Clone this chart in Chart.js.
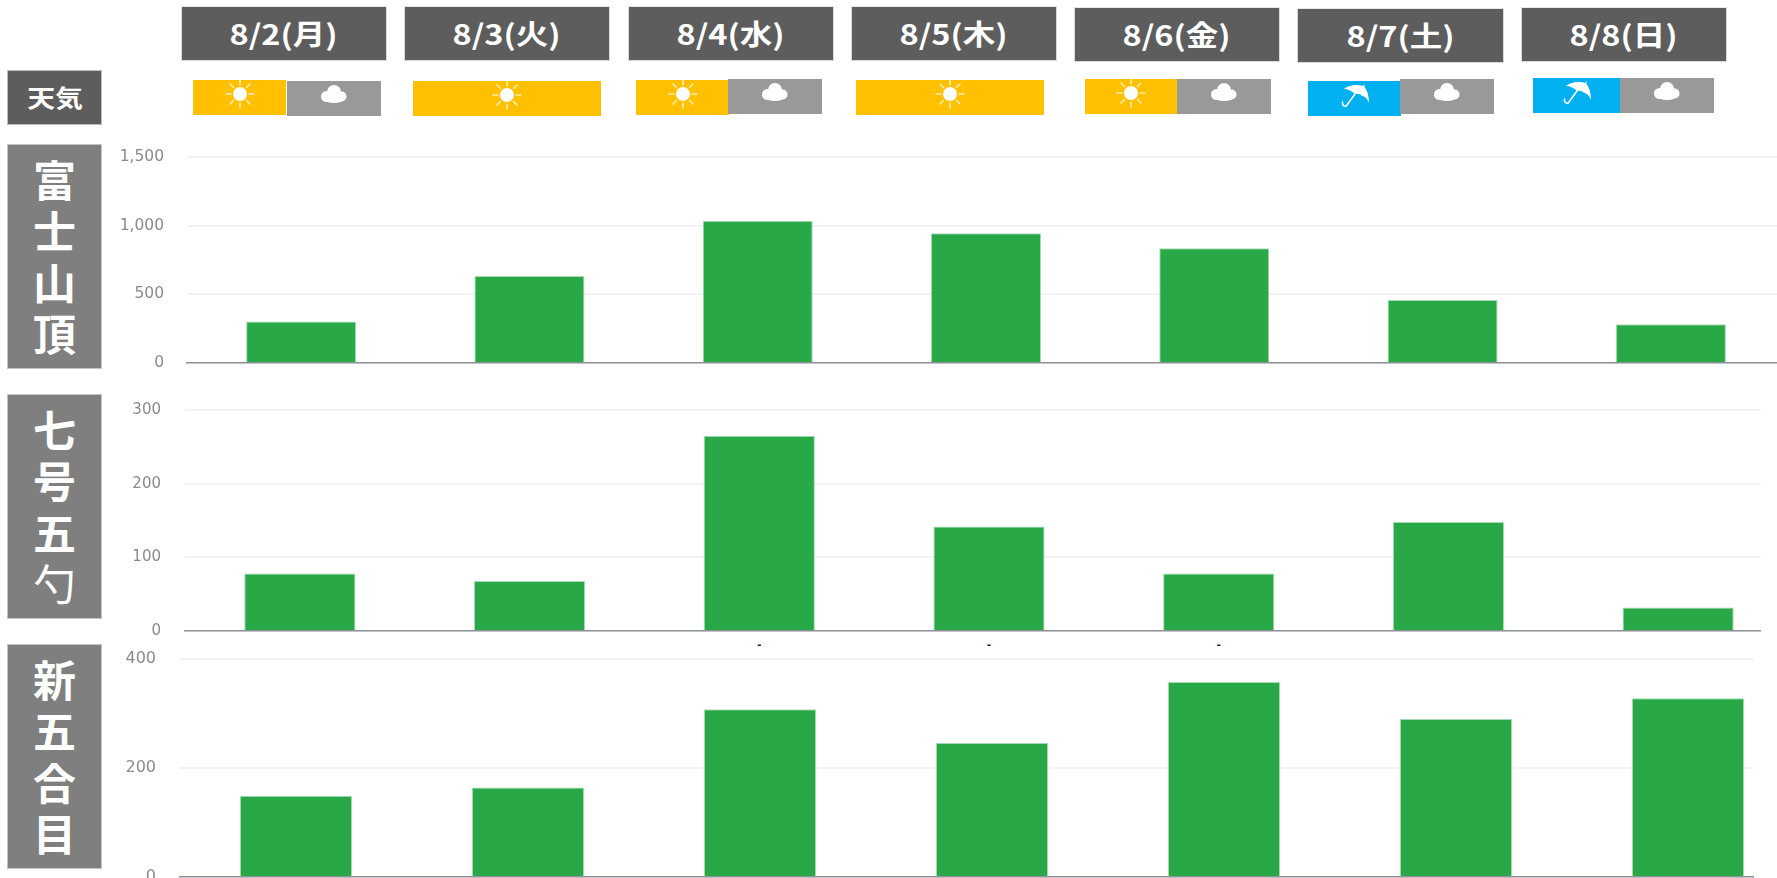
<!DOCTYPE html>
<html lang="ja">
<head>
<meta charset="utf-8">
<title>登山者数</title>
<script src="https://cdn.jsdelivr.net/npm/chart.js@4"></script>
<style>
    html, body { margin: 0; padding: 0; background: #fff; width: 1777px; height: 878px; overflow: hidden; }
    body { position: relative; font-family: "Noto Sans CJK JP", "Noto Sans", sans-serif; }
    .box { position: absolute; display: flex; align-items: center; justify-content: center; color: #fff; font-weight: 700; box-sizing: border-box; }
    .day { background: #5d5d5d; border: 1px solid #d9d9d9; border-top-color: #e8e8e8; font-size: 28px; padding-bottom: 2px; }
    .day span, .tenki span { display: inline-block; transform: scaleX(1.16); white-space: nowrap; }
    .tenki { background: #5d5d5d; border: 1px solid #bdbdbd; font-size: 24px; padding-bottom: 2px; }
    .place { background: #7f7f7f; border: 1px solid #c4c4c4; flex-direction: column; font-size: 43px; line-height: 51.5px; padding-bottom: 2px; }
    .place .thin { font-weight: 400; }
    .cell { position: absolute; }
    .cell svg { position: absolute; left: 50%; top: 0; margin-left: -18px; }
    .wrap { position: absolute; left: 0; overflow: hidden; }
    .wrap canvas { display: block; }
</style>
</head>
<body>
<script>
// データ
const days = ["8/2(月)", "8/3(火)", "8/4(水)", "8/5(木)", "8/6(金)", "8/7(土)", "8/8(日)"]
const weather = [["sun", "cloud"], ["sun"], ["sun", "cloud"], ["sun"], ["sun", "cloud"], ["rain", "cloud"], ["rain", "cloud"]]
const places = ["富士山頂", "七号五勺", "新五合目"]
const thinChars = ["勺"]

const fujiTop = [303, 633, 1036, 945, 836, 459, 283]
const nanagoGoshaku = [78, 68, 265, 142, 78, 148, 32]
const shinGogome = [149, 164, 308, 246, 358, 290, 328]

const fujiTicks = [0, 500, 1000, 1500]
const nanagoTicks = [0, 100, 200, 300]
const shinTicks = [0, 200, 400]
const nanagoMarks = ["", "", "-", "-", "-", "", ""]

// レイアウト [left, top, right, bottom]
const dayBoxes = [
    [181, 6, 387, 61], [404, 6, 610, 61], [628, 6, 834, 61], [851, 6, 1057, 61],
    [1074, 7, 1280, 62], [1297, 8, 1504, 63], [1521, 7, 1727, 62],
]
const weatherBoxes = [
    [[193, 80, 286, 115], [287, 81, 381, 116]],
    [[413, 81, 601, 116]],
    [[636, 80, 729, 115], [728, 79, 822, 114]],
    [[856, 80, 1044, 115]],
    [[1085, 79, 1177, 114], [1177, 79, 1271, 114]],
    [[1308, 81, 1401, 116], [1400, 79, 1494, 114]],
    [[1533, 78, 1620, 113], [1620, 78, 1714, 113]],
]
const placeBoxes = [[7, 144, 102, 369], [7, 394, 102, 619], [7, 644, 102, 869]]
const colors = { sun: "#ffc000", cloud: "#999999", rain: "#00b0f0" }
const green = "#29a847"

const icons = {
    sun: `<g stroke="#ffeeb0" stroke-width="1.6" stroke-linecap="round">
            <path d="M18 0V5M18 23V28M4 14H9M27 14H32M8 4L11.5 7.5M24.5 20.5L28 24M28 4L24.5 7.5M11.5 20.5L8 24"/></g>
          <circle cx="18" cy="14" r="7" fill="#fff"/>`,
    cloud: `<g fill="#fff"><circle cx="18" cy="11" r="7"/><circle cx="10.500" cy="15.500" r="5.500"/><circle cx="25.500" cy="15.500" r="5"/>
            <ellipse cx="18" cy="17.500" rx="10" ry="4.500"/></g>`,
    rain: `<path d="M7 8C10 4.500 20 2.500 26 5L27.500 3L27.500 6C30.500 9.500 32 16 32 22C30 17 27.500 15 25 15C24 13.500 21 12.500 18 13C15 10 11 8 7 8Z" fill="#fff"/>
           <path d="M18 13L10 24C8.500 26.500 5 25 5.500 21" fill="none" stroke="#fff" stroke-width="1.500" stroke-linecap="round"/>`,
}

function place(el, b) {
    el.style.left = b[0] + "px"
    el.style.top = b[1] + "px"
    el.style.width = b[2] - b[0] + "px"
    el.style.height = b[3] - b[1] + "px"
    document.body.appendChild(el)
}

function makeBox(cls, html, b) {
    let el = document.createElement("div")
    el.className = "box " + cls
    el.innerHTML = html
    place(el, b)
}

makeBox("tenki", "<span>天気</span>", [7, 70, 102, 125])

days.forEach(function (d, i) {
    makeBox("day", "<span>" + d + "</span>", dayBoxes[i])
    weather[i].forEach(function (w, j) {
        let cell = document.createElement("div")
        cell.className = "cell"
        cell.style.background = colors[w]
        cell.innerHTML = '<svg width="36" height="30" viewBox="0 0 36 30">' + icons[w] + "</svg>"
        place(cell, weatherBoxes[i][j])
    })
})

places.forEach(function (p, i) {
    let html = p.split("").map(function (c) {
        return thinChars.includes(c) ? '<div class="thin">' + c + "</div>" : "<div>" + c + "</div>"
    }).join("")
    makeBox("place", html, placeBoxes[i])
})

// グラフ
function makeChart(opt) {
    let topPad = 10
    let wrap = document.createElement("div")
    wrap.className = "wrap"
    wrap.style.top = opt.top - topPad + "px"
    wrap.style.width = opt.clip + "px"
    wrap.style.height = opt.bottom - opt.top + topPad + opt.axisH + "px"
    let canvas = document.createElement("canvas")
    canvas.width = opt.left + 7 * opt.step
    canvas.height = opt.bottom - opt.top + topPad + opt.axisH
    wrap.appendChild(canvas)
    document.body.appendChild(wrap)

    return new Chart(canvas.getContext("2d"), {
        type: "bar",
        data: {
            labels: days,
            datasets: [{
                data: opt.values,
                backgroundColor: green,
                borderColor: "#a9dcb6",
                borderWidth: 1,
                barPercentage: opt.barPct,
                categoryPercentage: 1,
            }],
        },
        options: {
            responsive: false,
            animation: false,
            layout: { padding: { top: topPad, left: 0, right: 0, bottom: 0 } },
            plugins: { legend: { display: false }, tooltip: { enabled: false } },
            scales: {
                x: {
                    afterFit: function (s) {
                        s.height = opt.axisH
                        s.paddingTop = 0
                        s.paddingBottom = 0
                    },
                    grid: { display: false },
                    border: { display: true, color: "#8f9399", width: 1.5 },
                    ticks: {
                        display: !!opt.marks,
                        autoSkip: false,
                        maxRotation: 0,
                        padding: 0,
                        color: "#1c1c5c",
                        font: { family: "DejaVu Sans", size: 11, weight: "bold" },
                        callback: function (v, i) { return opt.marks ? opt.marks[i] : "" },
                    },
                },
                y: {
                    min: 0,
                    max: opt.ticks[opt.ticks.length - 1],
                    afterFit: function (s) {
                        s.width = opt.left
                        s.paddingTop = 0
                        s.paddingBottom = 0
                    },
                    afterBuildTicks: function (s) { s.ticks = opt.ticks.map(function (v) { return { value: v } }) },
                    border: { display: false },
                    grid: { drawTicks: false, color: "#f2f2f2", lineWidth: 2 },
                    ticks: {
                        padding: opt.pad,
                        color: "#8a8a8a",
                        font: { family: "DejaVu Sans", size: opt.fontSize },
                        callback: function (v) { return v.toLocaleString("en-US") },
                    },
                },
            },
        },
    })
}

makeChart({ values: fujiTop, ticks: fujiTicks, top: 157, bottom: 363, left: 187, step: 228.3, clip: 1777, barPct: 0.482, axisH: 6, pad: 23, fontSize: 15.5 })
makeChart({ values: nanagoGoshaku, ticks: nanagoTicks, marks: nanagoMarks, top: 410, bottom: 631, left: 185, step: 229.75, clip: 1761, barPct: 0.484, axisH: 22, pad: 24, fontSize: 15 })
makeChart({ values: shinGogome, ticks: shinTicks, top: 659, bottom: 877, left: 180, step: 232.1, clip: 1754, barPct: 0.484, axisH: 6, pad: 24, fontSize: 16 })
</script>
</body>
</html>
